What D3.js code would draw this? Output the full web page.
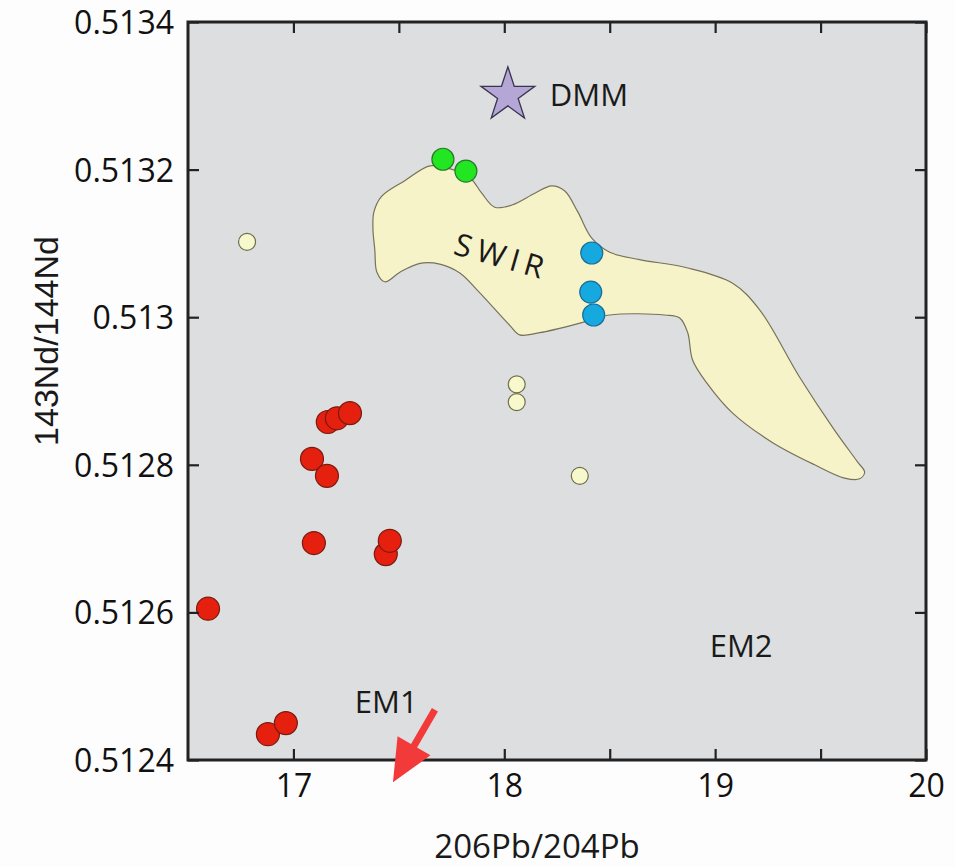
<!DOCTYPE html>
<html>
<head>
<meta charset="utf-8">
<script src="https://cdn.jsdelivr.net/npm/d3@7"></script>
<style>
  html, body { margin: 0; padding: 0; background: #fdfdfd; }
  svg { display: block; }
</style>
</head>
<body>
<div id="chart"></div>
<script>
// ── Datos ────────────────────────────────────────────────────────────────
// Cada muestra: [206Pb/204Pb, 143Nd/144Nd]
const redPoints = [
  [17.163, 0.512858], [17.206, 0.512863], [17.268, 0.512870],
  [17.088, 0.512808], [17.159, 0.512785],
  [17.097, 0.512694],
  [17.438, 0.512679], [17.457, 0.512697],
  [16.595, 0.512605],
  [16.879, 0.512435], [16.964, 0.512450]
];
const greenPoints = [[17.709, 0.513214], [17.818, 0.513198]];
const bluePoints = [[18.415, 0.513087], [18.410, 0.513034], [18.424, 0.513003]];
const palePoints = [
  [16.780, 0.513102],
  [18.059, 0.512909], [18.059, 0.512885],
  [18.358, 0.512785]
];
const dmm = [18.017, 0.513301];

// contorno del campo SWIR
const swirOutline = [
  [17.382, 0.513143], [17.419, 0.513164], [17.528, 0.513185], [17.647, 0.513205],
  [17.732, 0.513202], [17.837, 0.513189], [17.893, 0.513168], [17.955, 0.513149],
  [18.036, 0.513152], [18.145, 0.513168], [18.225, 0.513178], [18.287, 0.513171],
  [18.348, 0.513143], [18.415, 0.513107], [18.500, 0.513088], [18.642, 0.513078],
  [18.865, 0.513067], [19.083, 0.513046], [19.211, 0.513010], [19.400, 0.512919],
  [19.566, 0.512847], [19.675, 0.512804], [19.709, 0.512790], [19.685, 0.512781],
  [19.614, 0.512782], [19.472, 0.512800], [19.273, 0.512830], [19.083, 0.512870],
  [18.960, 0.512911], [18.893, 0.512942], [18.870, 0.512979], [18.832, 0.512999],
  [18.761, 0.513003], [18.500, 0.513003], [18.372, 0.512993], [18.168, 0.512979],
  [18.073, 0.512976], [18.026, 0.512989], [17.884, 0.513033], [17.789, 0.513060],
  [17.694, 0.513072], [17.600, 0.513073], [17.505, 0.513061], [17.434, 0.513048],
  [17.396, 0.513061], [17.386, 0.513091], [17.377, 0.513121]
];

// flecha hacia EM1 (inicio, punta)
const em1Arrow = [[17.671, 0.512468], [17.472, 0.512370]];

// etiquetas
const labels = [
  { text: "DMM", at: [18.216, 0.513286] },
  { text: "EM1", at: [17.291, 0.512464] },
  { text: "EM2", at: [18.974, 0.512540] }
];
const swirLabel = { text: "SWIR", at: [17.990, 0.513082] };

// ejes
const xDomain = [16.5, 20];
const yDomain = [0.5124, 0.5134];
const xTicks = [17, 17.5, 18, 18.5, 19, 19.5, 20];
const xTickLabels = { 17: "17", 18: "18", 19: "19", 20: "20" };
const yTicks = [0.5124, 0.5126, 0.5128, 0.5130, 0.5132, 0.5134];
const yTickLabels = ["0.5124", "0.5126", "0.5128", "0.513", "0.5132", "0.5134"];
const xTitle = "206Pb/204Pb";
const yTitle = "143Nd/144Nd";

// ── Escalas ──────────────────────────────────────────────────────────────
const width = 955, height = 867;
const plotL = 188, plotR = 926, plotT = 22, plotB = 760;

const x = d3.scaleLinear().domain(xDomain).range([plotL, plotR]);
const y = d3.scaleLinear().domain(yDomain).range([plotB, plotT]);

const svg = d3.select("#chart").append("svg")
  .attr("width", width)
  .attr("height", height)
  .style("font-family", "'Open Sans', sans-serif");

// fondo del gráfico
svg.append("rect")
  .attr("x", plotL).attr("y", plotT)
  .attr("width", plotR - plotL).attr("height", plotB - plotT)
  .attr("fill", "#dddee0");

// ── Campo SWIR ───────────────────────────────────────────────────────────
const area = d3.line()
  .x(d => x(d[0]))
  .y(d => y(d[1]))
  .curve(d3.curveCatmullRomClosed.alpha(0.5));

svg.append("path")
  .attr("d", area(swirOutline))
  .attr("fill", "#f6f3c9")
  .attr("stroke", "#77725a")
  .attr("stroke-width", 1.2);

svg.append("text")
  .attr("transform", `translate(${x(swirLabel.at[0])},${y(swirLabel.at[1])}) rotate(16)`)
  .attr("text-anchor", "middle")
  .attr("dy", "0.35em")
  .style("font-size", "31px")
  .style("letter-spacing", "6px")
  .attr("fill", "#1a1a1a")
  .text(swirLabel.text);

// ── Puntos ───────────────────────────────────────────────────────────────
function drawPoints(data, r, fill, stroke) {
  svg.append("g")
    .selectAll("circle")
    .data(data)
    .join("circle")
    .attr("cx", d => x(d[0]))
    .attr("cy", d => y(d[1]))
    .attr("r", r)
    .attr("fill", fill)
    .attr("stroke", stroke)
    .attr("stroke-width", 1.2);
}

drawPoints(palePoints, 8.5, "#f7f8cc", "#6e6e4c");
drawPoints(redPoints, 11.5, "#e5200f", "#7a1a10");
drawPoints(greenPoints, 11, "#22e622", "#2a7a2a");
drawPoints(bluePoints, 11, "#15a9e0", "#1b6d98");

// estrella DMM
svg.append("path")
  .attr("d", d3.symbol(d3.symbolStar, 900)())
  .attr("transform", `translate(${x(dmm[0])},${y(dmm[1])})`)
  .attr("fill", "#b4a7d6")
  .attr("stroke", "#3b3350")
  .attr("stroke-width", 1.3);

// etiquetas de componentes
svg.append("g")
  .selectAll("text")
  .data(labels)
  .join("text")
  .attr("x", d => x(d.at[0]))
  .attr("y", d => y(d.at[1]))
  .style("font-size", "31px")
  .attr("fill", "#1a1a1a")
  .text(d => d.text);

// ── Ejes ─────────────────────────────────────────────────────────────────
const tickLen = 11;

const xAxis = svg.append("g")
  .attr("transform", `translate(0,${plotB})`)
  .call(d3.axisBottom(x).tickValues(xTicks).tickSizeInner(-tickLen).tickSizeOuter(0)
    .tickPadding(14).tickFormat(d => xTickLabels[d] || ""));

const xAxisTop = svg.append("g")
  .attr("transform", `translate(0,${plotT})`)
  .call(d3.axisTop(x).tickValues(xTicks).tickSizeInner(-tickLen).tickSizeOuter(0)
    .tickFormat(() => ""));

const yAxis = svg.append("g")
  .attr("transform", `translate(${plotL},0)`)
  .call(d3.axisLeft(y).tickValues(yTicks).tickSizeInner(-tickLen).tickSizeOuter(0)
    .tickPadding(14).tickFormat((d, i) => yTickLabels[i]));

const yAxisRight = svg.append("g")
  .attr("transform", `translate(${plotR},0)`)
  .call(d3.axisRight(y).tickValues(yTicks).tickSizeInner(-tickLen).tickSizeOuter(0)
    .tickFormat(() => ""));

[xAxis, xAxisTop, yAxis, yAxisRight].forEach(a => {
  a.select(".domain").remove();
  a.selectAll(".tick line").attr("stroke", "#222").attr("stroke-width", 2.2);
  a.selectAll(".tick text")
    .attr("fill", "#111")
    .style("font-family", "'Open Sans', sans-serif")
    .style("font-size", "32px");
});
yAxis.selectAll(".tick text").attr("dy", "0.36em");

// marco
svg.append("rect")
  .attr("x", plotL).attr("y", plotT)
  .attr("width", plotR - plotL).attr("height", plotB - plotT)
  .attr("fill", "none")
  .attr("stroke", "#222")
  .attr("stroke-width", 3);

// ── Flecha EM1 ───────────────────────────────────────────────────────────
const [a0, a1] = em1Arrow;
const sx = x(a0[0]), sy = y(a0[1]), tx = x(a1[0]), ty = y(a1[1]);
const ang = Math.atan2(ty - sy, tx - sx);
const headLen = 42, headHalf = 19;
const bx = tx - headLen * Math.cos(ang), by = ty - headLen * Math.sin(ang);

svg.append("line")
  .attr("x1", sx).attr("y1", sy)
  .attr("x2", bx + 8 * Math.cos(ang)).attr("y2", by + 8 * Math.sin(ang))
  .attr("stroke", "#f23a3a")
  .attr("stroke-width", 7);

svg.append("path")
  .attr("d", d3.line()([
    [tx, ty],
    [bx + headHalf * Math.sin(ang), by - headHalf * Math.cos(ang)],
    [bx - headHalf * Math.sin(ang), by + headHalf * Math.cos(ang)]
  ]) + "Z")
  .attr("fill", "#f23a3a");

// ── Títulos de ejes ──────────────────────────────────────────────────────
svg.append("text")
  .attr("x", (plotL + plotR) / 2 - 20)
  .attr("y", 858)
  .attr("text-anchor", "middle")
  .style("font-size", "33px")
  .attr("fill", "#1a1a1a")
  .text(xTitle);

svg.append("text")
  .attr("transform", `translate(58,${(plotT + plotB) / 2 - 50}) rotate(-90)`)
  .attr("text-anchor", "middle")
  .style("font-family", "'Liberation Sans', Arial, sans-serif")
  .style("font-size", "34px")
  .attr("fill", "#1a1a1a")
  .text(yTitle);
</script>
</body>
</html>
